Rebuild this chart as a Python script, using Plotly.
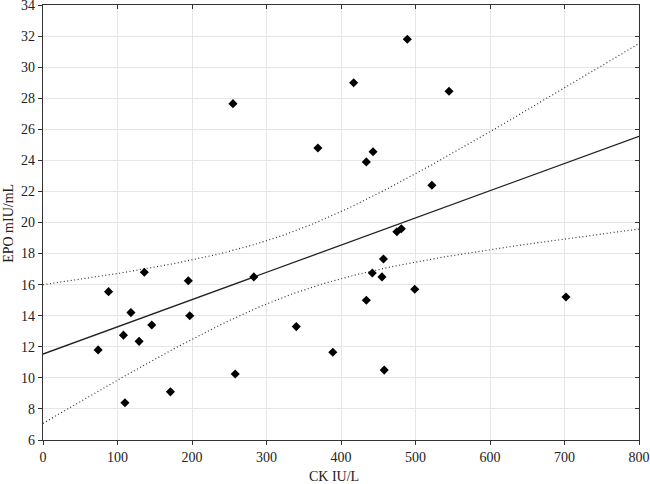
import numpy as np
from plotly import graph_objects as go

# CK (IU/L) and EPO (mIU/mL) values
ck = [74, 88, 108, 110, 118, 129, 136, 146, 171, 195, 197, 255, 258, 283,
      340, 369, 389, 417, 434, 434, 442, 443, 455, 457, 458, 475, 481, 489,
      499, 522, 545, 702]
epo = [11.8, 15.55, 12.75, 8.4, 14.2, 12.35, 16.8, 13.4, 9.1, 16.25, 14.0, 27.65, 10.25, 16.5,
       13.3, 24.8, 11.65, 29.0, 23.9, 15.0, 16.75, 24.55, 16.5, 17.65, 10.5, 19.4, 19.6, 31.8,
       15.7, 22.4, 28.45, 15.2]

x_ticks = [0, 100, 200, 300, 400, 500, 600, 700, 800]
y_ticks = [6, 8, 10, 12, 14, 16, 18, 20, 22, 24, 26, 28, 30, 32, 34]

FONT = 'Liberation Serif'

# linear fit with 95% confidence band for the mean
x = np.array(ck, dtype=float)
y = np.array(epo, dtype=float)
n = len(x)
slope, icept = np.polyfit(x, y, 1)
resid = y - (icept + slope * x)
s = np.sqrt((resid ** 2).sum() / (n - 2))
xx = np.linspace(0, 800, 200)
fit = icept + slope * xx
t = 2.042  # t(0.975, df=30)
se = s * np.sqrt(1 / n + (xx - x.mean()) ** 2 / ((x - x.mean()) ** 2).sum())
upper = fit + t * se
lower = fit - t * se

fig = go.Figure()
band_style = dict(color='#333333', width=1.2, dash='1px,2.5px')
fig.add_trace(go.Scatter(x=xx, y=upper, mode='lines', line=band_style, hoverinfo='skip'))
fig.add_trace(go.Scatter(x=xx, y=lower, mode='lines', line=band_style, hoverinfo='skip'))
fig.add_trace(go.Scatter(x=xx, y=fit, mode='lines', line=dict(color='#222222', width=1.3),
                         hoverinfo='skip'))
fig.add_trace(go.Scatter(x=ck, y=epo, mode='markers',
                         marker=dict(symbol='diamond', size=7, color='black')))
# invisible trace so the mirrored (top/right) axes get drawn
fig.add_trace(go.Scatter(x=[0], y=[6], xaxis='x2', yaxis='y2', mode='markers',
                         marker=dict(opacity=0), hoverinfo='skip'))

axis_common = dict(
    showline=True, linecolor='#333333', linewidth=1.3,
    ticks='outside', ticklen=4, tickcolor='#333333',
    gridcolor='#e6e6e6', gridwidth=1, zeroline=False, automargin=False,
    ticklabeloverflow='allow',
    tickfont=dict(family=FONT, size=14, color='#222222'),
)
mirror_common = dict(
    showline=True, linecolor='#333333', linewidth=1.3, ticks='inside',
    ticklen=4, tickcolor='#333333', showticklabels=False, showgrid=False,
    zeroline=False, automargin=False,
)

fig.update_layout(
    width=650, height=484,
    margin=dict(l=43, r=11, t=5, b=44),
    paper_bgcolor='white', plot_bgcolor='white',
    showlegend=False,
    font=dict(family=FONT, size=14, color='#222222'),
    xaxis=dict(range=[0, 800], tickvals=x_ticks, **axis_common),
    yaxis=dict(range=[6, 34], tickvals=y_ticks, **axis_common),
    xaxis2=dict(range=[0, 800], tickvals=x_ticks, overlaying='x', side='top', **mirror_common),
    yaxis2=dict(range=[6, 34], tickvals=y_ticks, overlaying='y', side='right', **mirror_common),
    annotations=[
        dict(text='CK IU/L', xref='paper', yref='paper', x=0.488, y=-0.083,
             xanchor='center', yanchor='middle', showarrow=False,
             font=dict(family=FONT, size=14, color='#222222')),
        dict(text='EPO mIU/mL', xref='paper', yref='paper', x=-0.057, y=0.497,
             xanchor='center', yanchor='middle', textangle=-90, showarrow=False,
             font=dict(family=FONT, size=14, color='#222222')),
    ],
)

# drop the browser's default body margin so the figure sits at the page corner
fig.write_html('out.html', config={'displayModeBar': False, 'displaylogo': False},
               post_script="document.body.style.margin='0';")
